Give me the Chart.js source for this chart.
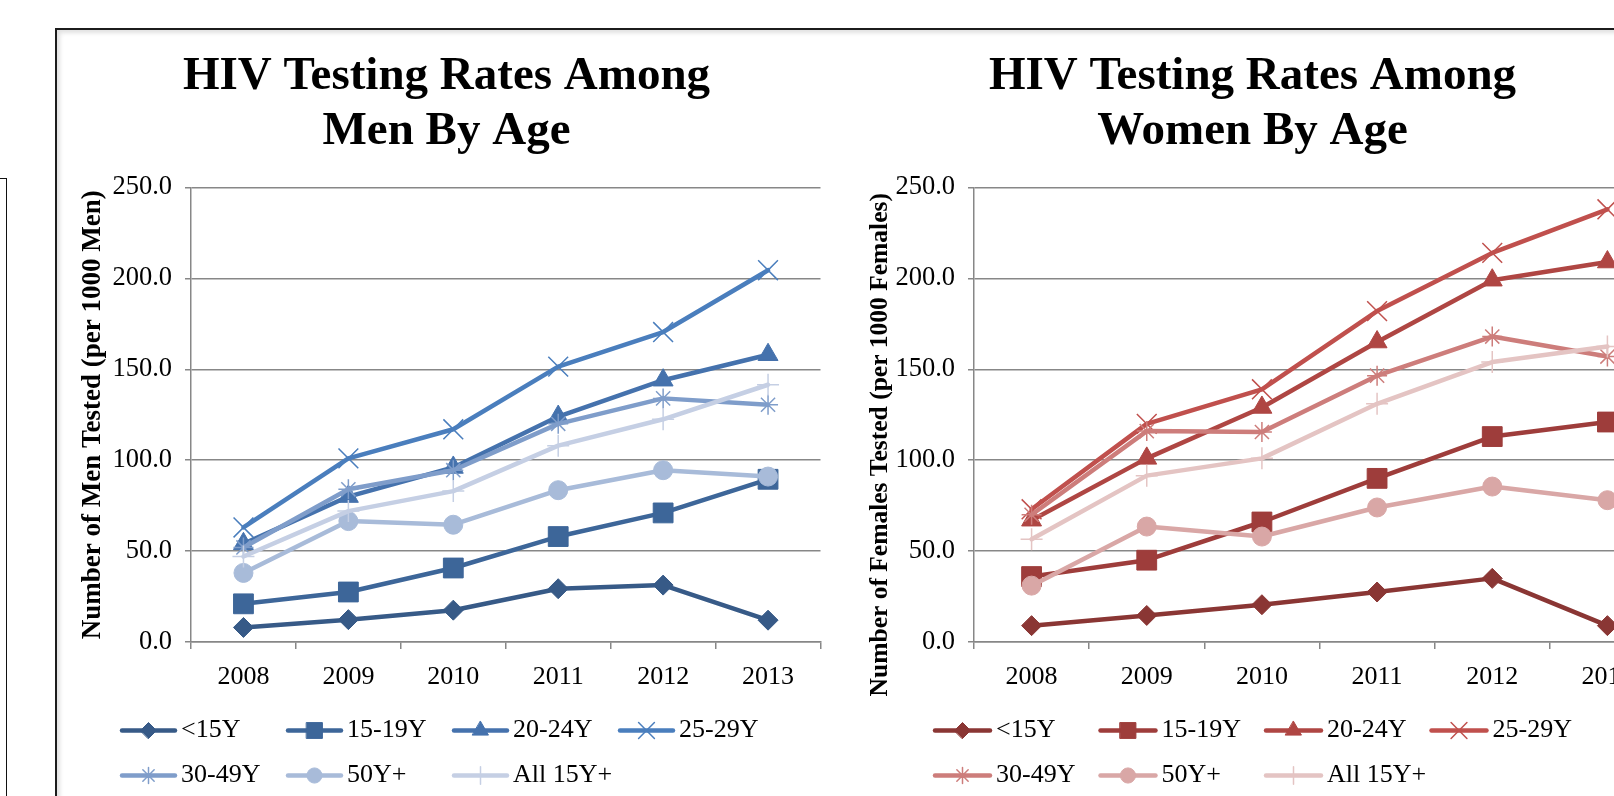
<!DOCTYPE html>
<html>
<head>
<meta charset="utf-8">
<script src="https://cdn.jsdelivr.net/npm/chart.js@4.4.1/dist/chart.umd.min.js"></script>
<style>
  html, body { margin: 0; padding: 0; background: #fff; overflow: hidden; }
  body { width: 1614px; height: 796px; position: relative; }
  .frame {
    position: absolute; left: 55px; top: 28px; width: 1640px; height: 820px;
    border-top: 2.5px solid #1c1c1c; border-left: 2.5px solid #1c1c1c;
    box-shadow: inset 3px 3px 4px rgba(0, 0, 0, 0.12);
  }
  .side-box {
    position: absolute; left: -20px; top: 178px; width: 25px; height: 700px;
    border: 1.5px solid #111;
  }
  canvas { position: absolute; top: 30px; }
  #menChart { left: 60px; }
  #womenChart { left: 840px; }
</style>
</head>
<body>
<div class="side-box"></div>
<div class="frame"></div>
<canvas id="menChart" width="776" height="766"></canvas>
<canvas id="womenChart" width="842" height="766"></canvas>
<script>
// categories and series labels
const years = ['2008', '2009', '2010', '2011', '2012', '2013'];
const ageGroups = ['<15Y', '15-19Y', '20-24Y', '25-29Y', '30-49Y', '50Y+', 'All 15Y+'];
const yTicks = [0, 50, 100, 150, 200, 250];

// men, tests per 1000 men
const menUnder15 = [8, 12.3, 17.5, 29.3, 31.3, 12];
const men15to19 = [21, 27.5, 40.7, 58, 71, 89.5];
const men20to24 = [54, 80, 96, 124, 144, 158];
const men25to29 = [63, 101, 117, 151.5, 170.5, 204.5];
const men30to49 = [52, 84, 94.5, 120, 134, 130.5];
const men50plus = [38, 66.5, 64.5, 83.5, 94.5, 91];
const menAll15plus = [47, 72, 83, 108, 122.5, 141.5];

// women, tests per 1000 females
const womenUnder15 = [9, 14.6, 20.5, 27.5, 35, 9];
const women15to19 = [36, 45, 66, 90, 113, 121];
const women20to24 = [67, 101, 129, 165, 199, 209];
const women25to29 = [73, 120, 139, 182, 214, 238];
const women30to49 = [70, 116, 115.5, 146.5, 168, 157];
const women50plus = [31, 63.5, 58, 74, 85.5, 78];
const womenAll15plus = [56.5, 91.5, 101, 131, 154, 162.5];

const menColors = ['#375A87', '#3D6699', '#4572AD', '#4A7EBD', '#7F9DCA', '#A8BBD9', '#C5CFE4'];
const womenColors = ['#8A3634', '#9E3D3B', '#AF4643', '#C0504D', '#CD7D7B', '#D9A7A6', '#E4C4C3'];

// Excel-like markers, one per age group
const markers = [
    { style: 'rectRot', radius: 10, border: 1 },
    { style: 'rect', radius: 14, border: 1 },
    { style: 'triangle', radius: 11.5, border: 1 },
    { style: 'crossRot', radius: 14, border: 1.5 },
    { style: 'star', radius: 10, border: 1.5 },
    { style: 'circle', radius: 9.5, border: 1 },
    { style: 'cross', radius: 11, border: 1.5 }
];

const serif = "'Liberation Serif', 'Times New Roman', serif";
const gridGray = '#878787';

// legend laid out in a fixed grid like the Excel one (4 columns)
const legendGrid = {
    id: 'legendGrid',
    afterDraw(chart, args, opts) {
        const ctx = chart.ctx;
        chart.data.datasets.forEach((ds, i) => {
            const x = opts.left + (i % 4) * opts.colWidth;
            const y = opts.rows[Math.floor(i / 4)];
            ctx.save();
            ctx.strokeStyle = ds.borderColor;
            ctx.lineWidth = ds.borderWidth;
            ctx.lineCap = 'round';
            ctx.beginPath();
            ctx.moveTo(x, y);
            ctx.lineTo(x + opts.lineLength, y);
            ctx.stroke();

            ctx.fillStyle = ds.pointBackgroundColor;
            ctx.strokeStyle = ds.pointBorderColor;
            ctx.lineWidth = ds.pointBorderWidth;
            Chart.helpers.drawPoint(ctx, {
                pointStyle: ds.pointStyle,
                radius: ds.pointRadius * 0.8,
                borderWidth: ds.pointBorderWidth,
                rotation: 0
            }, x + opts.lineLength / 2, y);

            ctx.fillStyle = '#000';
            ctx.font = opts.fontSize + 'px ' + serif;
            ctx.textAlign = 'left';
            ctx.textBaseline = 'middle';
            ctx.fillText(ds.label, x + opts.lineLength + opts.gap, y);
            ctx.restore();
        });
    }
};

// rotated y-axis title, Excel does not always centre it on the axis
const yAxisTitle = {
    id: 'yAxisTitle',
    afterDraw(chart, args, opts) {
        const scale = chart.scales.y;
        const ctx = chart.ctx;
        ctx.save();
        ctx.translate(scale.left + opts.offset, (scale.top + scale.bottom) / 2 + opts.shift);
        ctx.rotate(-Math.PI / 2);
        ctx.fillStyle = '#000';
        ctx.font = 'bold ' + opts.fontSize + 'px ' + serif;
        ctx.textAlign = 'center';
        ctx.textBaseline = 'middle';
        ctx.fillText(opts.text, 0, 0);
        ctx.restore();
    }
};

function buildDatasets(seriesList, colors) {
    return seriesList.map((values, i) => ({
        label: ageGroups[i],
        data: values,
        borderColor: colors[i],
        backgroundColor: colors[i],
        borderWidth: 4.5,
        borderJoinStyle: 'round',
        borderCapStyle: 'round',
        tension: 0,
        pointStyle: markers[i].style,
        pointRadius: markers[i].radius,
        pointBorderWidth: markers[i].border,
        pointBackgroundColor: colors[i],
        pointBorderColor: colors[i],
        order: seriesList.length - i // later series drawn on top, as in Excel
    }));
}

function makeChart(canvasId, cfg) {
    const ctx = document.getElementById(canvasId).getContext('2d');
    return new Chart(ctx, {
        type: 'line',
        data: {
            labels: years,
            datasets: buildDatasets(cfg.series, cfg.colors)
        },
        plugins: [legendGrid, yAxisTitle],
        options: {
            responsive: false,
            animation: false,
            events: [],
            layout: {
                padding: { left: 0, right: cfg.padRight, top: 0, bottom: 104 }
            },
            scales: {
                x: {
                    offset: true,
                    grid: {
                        offset: true,
                        drawOnChartArea: false,
                        drawTicks: true,
                        tickLength: 7,
                        color: gridGray,
                        lineWidth: 1.5
                    },
                    border: { display: true, color: gridGray, width: 1.5 },
                    ticks: {
                        color: '#000',
                        padding: 13,
                        font: { family: serif, size: 26 }
                    },
                    afterFit: (scale) => { scale.height = 50; }
                },
                y: {
                    min: 0,
                    max: 250,
                    afterBuildTicks: (scale) => { scale.ticks = yTicks.map(v => ({ value: v })); },
                    grid: {
                        color: gridGray,
                        lineWidth: 1.5,
                        tickLength: 6
                    },
                    border: { display: true, color: gridGray, width: 1.5 },
                    ticks: {
                        color: '#000',
                        padding: 13,
                        font: { family: serif, size: 26.5 },
                        callback: (v) => Number(v).toFixed(1)
                    },
                    afterFit: (scale) => { scale.width = cfg.yWidth; }
                }
            },
            plugins: {
                legend: { display: false },
                tooltip: { enabled: false },
                title: {
                    display: true,
                    text: cfg.title,
                    color: '#000',
                    padding: { top: 19.5, bottom: 28 },
                    font: { family: serif, size: 47, weight: 'bold', lineHeight: 1.17 }
                },
                legendGrid: {
                    left: cfg.legendLeft,
                    colWidth: cfg.legendCol,
                    rows: [700.5, 745.5],
                    lineLength: cfg.legendLine,
                    gap: 6,
                    fontSize: 26
                },
                yAxisTitle: {
                    text: cfg.yTitle,
                    offset: cfg.yTitleOffset,
                    shift: cfg.yTitleShift,
                    fontSize: cfg.yTitleSize
                }
            }
        }
    });
}

makeChart('menChart', {
    series: [menUnder15, men15to19, men20to24, men25to29, men30to49, men50plus, menAll15plus],
    colors: menColors,
    title: ['HIV Testing Rates Among', 'Men By Age'],
    yTitle: 'Number of Men Tested (per 1000 Men)',
    yTitleOffset: 33,
    yTitleShift: 0,
    yTitleSize: 27,
    yWidth: 131,
    padRight: 3,
    legendLeft: 62,
    legendCol: 166,
    legendLine: 53
});

makeChart('womenChart', {
    series: [womenUnder15, women15to19, women20to24, women25to29, women30to49, women50plus, womenAll15plus],
    colors: womenColors,
    title: ['HIV Testing Rates Among', 'Women By Age'],
    yTitle: 'Number of Females Tested (per 1000 Females)',
    yTitleOffset: 40,
    yTitleShift: 30,
    yTitleSize: 25.5,
    yWidth: 134,
    padRight: 17,
    legendLeft: 95,
    legendCol: 165.5,
    legendLine: 55
});
</script>
</body>
</html>
